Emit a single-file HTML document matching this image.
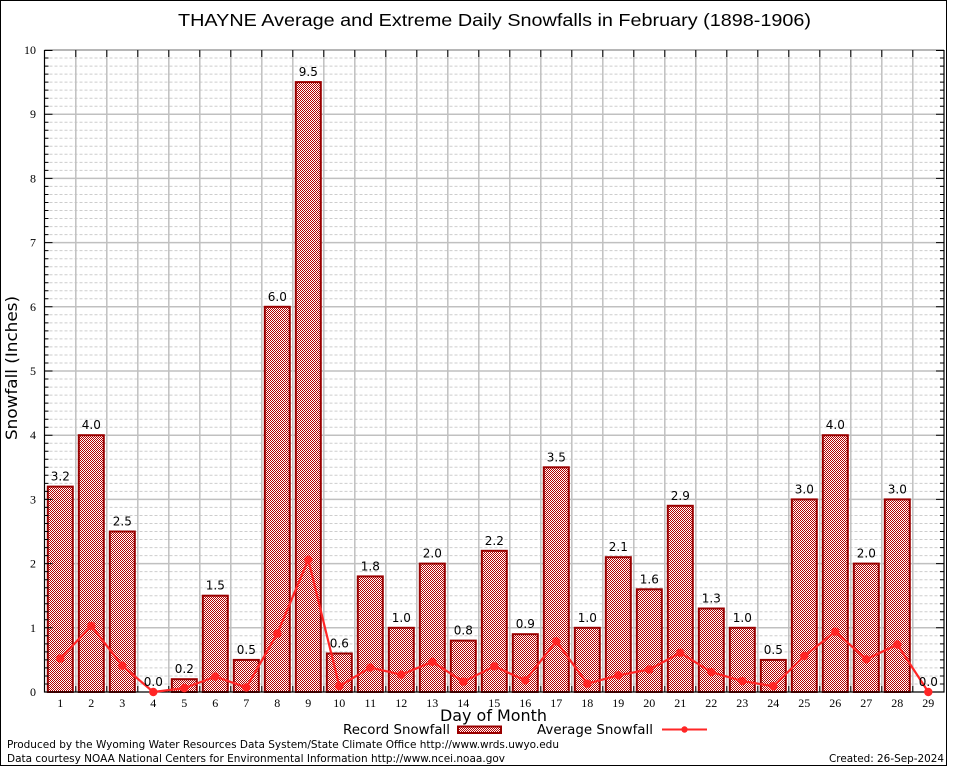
<!DOCTYPE html>
<html>
<head>
<meta charset="utf-8">
<style>
html,body{margin:0;padding:0;background:#fff;}
svg{display:block;}
.tk{font-family:"Liberation Serif",serif;font-size:12px;fill:#000;}
.vl{font-family:"DejaVu Sans","Liberation Sans",sans-serif;font-size:12px;fill:#000;text-anchor:middle;}
.sans{font-family:"DejaVu Sans","Liberation Sans",sans-serif;fill:#000;}
</style>
</head>
<body>
<svg width="954" height="768" viewBox="0 0 954 768" xmlns="http://www.w3.org/2000/svg">
<defs>
<pattern id="chk" width="2" height="2" patternUnits="userSpaceOnUse">
<rect width="2" height="2" fill="#fff"/>
<rect x="0" y="0" width="1" height="1" fill="#b40000"/>
<rect x="1" y="1" width="1" height="1" fill="#b40000"/>
</pattern>
</defs>
<rect x="0" y="0" width="954" height="768" fill="#fff"/>
<rect x="0.5" y="0.5" width="946" height="765" fill="none" stroke="#000" stroke-width="1"/>

<!-- minor dashed grid -->
<path fill="none" stroke="#cdcdcd" stroke-width="1" stroke-dasharray="3,2" d="
M44.5 684H944M44.5 676H944M44.5 667.9H944M44.5 659.9H944M44.5 651.9H944M44.5 643.9H944M44.5 635.8H944
M44.5 619.8H944M44.5 611.8H944M44.5 603.7H944M44.5 595.7H944M44.5 587.7H944M44.5 579.7H944M44.5 571.6H944
M44.5 555.6H944M44.5 547.6H944M44.5 539.5H944M44.5 531.5H944M44.5 523.5H944M44.5 515.5H944M44.5 507.4H944
M44.5 491.4H944M44.5 483.4H944M44.5 475.3H944M44.5 467.3H944M44.5 459.3H944M44.5 451.3H944M44.5 443.2H944
M44.5 427.2H944M44.5 419.2H944M44.5 411.1H944M44.5 403.1H944M44.5 395.1H944M44.5 387.1H944M44.5 379H944
M44.5 363H944M44.5 355H944M44.5 346.9H944M44.5 338.9H944M44.5 330.9H944M44.5 322.9H944M44.5 314.8H944
M44.5 298.8H944M44.5 290.8H944M44.5 282.7H944M44.5 274.7H944M44.5 266.7H944M44.5 258.7H944M44.5 250.6H944
M44.5 234.6H944M44.5 226.6H944M44.5 218.5H944M44.5 210.5H944M44.5 202.5H944M44.5 194.5H944M44.5 186.4H944
M44.5 170.4H944M44.5 162.4H944M44.5 154.3H944M44.5 146.3H944M44.5 138.3H944M44.5 130.3H944M44.5 122.2H944
M44.5 106.2H944M44.5 98.2H944M44.5 90.1H944M44.5 82.1H944M44.5 74.1H944M44.5 66.1H944M44.5 58H944"/>

<!-- major grid -->
<path fill="none" stroke="#c0c0c0" stroke-width="1.5" d="
M44.5 627.8H944M44.5 563.6H944M44.5 499.4H944M44.5 435.2H944M44.5 371H944M44.5 306.8H944M44.5 242.6H944M44.5 178.4H944M44.5 114.2H944M44.5 50H944
M75.8 50V692M106.8 50V692M137.8 50V692M168.8 50V692M199.8 50V692M230.8 50V692M261.8 50V692M292.8 50V692M323.8 50V692M354.8 50V692
M385.8 50V692M416.8 50V692M447.8 50V692M478.8 50V692M509.8 50V692M540.8 50V692M571.8 50V692M602.8 50V692M633.8 50V692M664.8 50V692
M695.8 50V692M726.8 50V692M757.8 50V692M788.8 50V692M819.8 50V692M850.8 50V692M881.8 50V692M912.8 50V692"/>

<!-- bars -->
<g fill="url(#chk)" stroke="#990000" stroke-width="2">
<rect x="47.8" y="486.6" width="25" height="205.4"/>
<rect x="78.8" y="435.2" width="25" height="256.8"/>
<rect x="109.8" y="531.5" width="25" height="160.5"/>
<rect x="171.8" y="679.2" width="25" height="12.8"/>
<rect x="202.8" y="595.7" width="25" height="96.3"/>
<rect x="233.8" y="659.9" width="25" height="32.1"/>
<rect x="264.8" y="306.8" width="25" height="385.2"/>
<rect x="295.8" y="82.1" width="25" height="609.9"/>
<rect x="326.8" y="653.5" width="25" height="38.5"/>
<rect x="357.8" y="576.4" width="25" height="115.6"/>
<rect x="388.8" y="627.8" width="25" height="64.2"/>
<rect x="419.8" y="563.6" width="25" height="128.4"/>
<rect x="450.8" y="640.6" width="25" height="51.4"/>
<rect x="481.8" y="550.8" width="25" height="141.2"/>
<rect x="512.8" y="634.2" width="25" height="57.8"/>
<rect x="543.8" y="467.3" width="25" height="224.7"/>
<rect x="574.8" y="627.8" width="25" height="64.2"/>
<rect x="605.8" y="557.2" width="25" height="134.8"/>
<rect x="636.8" y="589.3" width="25" height="102.7"/>
<rect x="667.8" y="505.8" width="25" height="186.2"/>
<rect x="698.8" y="608.5" width="25" height="83.5"/>
<rect x="729.8" y="627.8" width="25" height="64.2"/>
<rect x="760.8" y="659.9" width="25" height="32.1"/>
<rect x="791.8" y="499.4" width="25" height="192.6"/>
<rect x="822.8" y="435.2" width="25" height="256.8"/>
<rect x="853.8" y="563.6" width="25" height="128.4"/>
<rect x="884.8" y="499.4" width="25" height="192.6"/>
</g>

<!-- axes border -->
<path fill="none" stroke="#a8a8a8" stroke-width="1.5" d="M44.5 50H944"/>
<path fill="none" stroke="#000" stroke-width="1.2" d="M44.5 50V692H944V50"/>

<!-- ticks -->
<path fill="none" stroke="#000" stroke-width="1" d="
M44.5 627.8h8M44.5 563.6h8M44.5 499.4h8M44.5 435.2h8M44.5 371h8M44.5 306.8h8M44.5 242.6h8M44.5 178.4h8M44.5 114.2h8M44.5 50.5h8
M944 627.8h-8M944 563.6h-8M944 499.4h-8M944 435.2h-8M944 371h-8M944 306.8h-8M944 242.6h-8M944 178.4h-8M944 114.2h-8M944 50.5h-8
M44.5 684h4M44.5 676h4M44.5 667.9h4M44.5 659.9h4M44.5 651.9h4M44.5 643.9h4M44.5 635.8h4
M44.5 619.8h4M44.5 611.8h4M44.5 603.7h4M44.5 595.7h4M44.5 587.7h4M44.5 579.7h4M44.5 571.6h4
M44.5 555.6h4M44.5 547.6h4M44.5 539.5h4M44.5 531.5h4M44.5 523.5h4M44.5 515.5h4M44.5 507.4h4
M44.5 491.4h4M44.5 483.4h4M44.5 475.3h4M44.5 467.3h4M44.5 459.3h4M44.5 451.3h4M44.5 443.2h4
M44.5 427.2h4M44.5 419.2h4M44.5 411.1h4M44.5 403.1h4M44.5 395.1h4M44.5 387.1h4M44.5 379h4
M44.5 363h4M44.5 355h4M44.5 346.9h4M44.5 338.9h4M44.5 330.9h4M44.5 322.9h4M44.5 314.8h4
M44.5 298.8h4M44.5 290.8h4M44.5 282.7h4M44.5 274.7h4M44.5 266.7h4M44.5 258.7h4M44.5 250.6h4
M44.5 234.6h4M44.5 226.6h4M44.5 218.5h4M44.5 210.5h4M44.5 202.5h4M44.5 194.5h4M44.5 186.4h4
M44.5 170.4h4M44.5 162.4h4M44.5 154.3h4M44.5 146.3h4M44.5 138.3h4M44.5 130.3h4M44.5 122.2h4
M44.5 106.2h4M44.5 98.2h4M44.5 90.1h4M44.5 82.1h4M44.5 74.1h4M44.5 66.1h4M44.5 58h4
M944 684h-4M944 676h-4M944 667.9h-4M944 659.9h-4M944 651.9h-4M944 643.9h-4M944 635.8h-4
M944 619.8h-4M944 611.8h-4M944 603.7h-4M944 595.7h-4M944 587.7h-4M944 579.7h-4M944 571.6h-4
M944 555.6h-4M944 547.6h-4M944 539.5h-4M944 531.5h-4M944 523.5h-4M944 515.5h-4M944 507.4h-4
M944 491.4h-4M944 483.4h-4M944 475.3h-4M944 467.3h-4M944 459.3h-4M944 451.3h-4M944 443.2h-4
M944 427.2h-4M944 419.2h-4M944 411.1h-4M944 403.1h-4M944 395.1h-4M944 387.1h-4M944 379h-4
M944 363h-4M944 355h-4M944 346.9h-4M944 338.9h-4M944 330.9h-4M944 322.9h-4M944 314.8h-4
M944 298.8h-4M944 290.8h-4M944 282.7h-4M944 274.7h-4M944 266.7h-4M944 258.7h-4M944 250.6h-4
M944 234.6h-4M944 226.6h-4M944 218.5h-4M944 210.5h-4M944 202.5h-4M944 194.5h-4M944 186.4h-4
M944 170.4h-4M944 162.4h-4M944 154.3h-4M944 146.3h-4M944 138.3h-4M944 130.3h-4M944 122.2h-4
M944 106.2h-4M944 98.2h-4M944 90.1h-4M944 82.1h-4M944 74.1h-4M944 66.1h-4M944 58h-4
M75.8 692v-6M106.8 692v-6M137.8 692v-6M168.8 692v-6M199.8 692v-6M230.8 692v-6M261.8 692v-6M292.8 692v-6M323.8 692v-6M354.8 692v-6
M385.8 692v-6M416.8 692v-6M447.8 692v-6M478.8 692v-6M509.8 692v-6M540.8 692v-6M571.8 692v-6M602.8 692v-6M633.8 692v-6M664.8 692v-6
M695.8 692v-6M726.8 692v-6M757.8 692v-6M788.8 692v-6M819.8 692v-6M850.8 692v-6M881.8 692v-6M912.8 692v-6
M75.8 50v7M106.8 50v7M137.8 50v7M168.8 50v7M199.8 50v7M230.8 50v7M261.8 50v7M292.8 50v7M323.8 50v7M354.8 50v7
M385.8 50v7M416.8 50v7M447.8 50v7M478.8 50v7M509.8 50v7M540.8 50v7M571.8 50v7M602.8 50v7M633.8 50v7M664.8 50v7
M695.8 50v7M726.8 50v7M757.8 50v7M788.8 50v7M819.8 50v7M850.8 50v7M881.8 50v7M912.8 50v7"/>

<!-- average line -->
<polyline fill="none" stroke="#ff2626" stroke-width="2.2" stroke-linejoin="round" points="60.3,658.6 91.3,625.9 122.3,665.7 153.3,692 184.3,688.1 215.3,676.6 246.3,687.5 277.3,633.6 308.3,559.7 339.3,686.2 370.3,667.6 401.3,674.7 432.3,661.8 463.3,681.7 494.3,666.3 525.3,680.4 556.3,641.3 587.3,683.7 618.3,675.3 649.3,669.5 680.3,652.8 711.3,672.1 742.3,681.1 773.3,686.2 804.3,656 835.3,631.7 866.3,659.3 897.3,644.5 928.3,692"/>
<g fill="#ff2626">
<circle cx="60.3" cy="658.6" r="4.2"/><circle cx="91.3" cy="625.9" r="4.2"/><circle cx="122.3" cy="665.7" r="4.2"/><circle cx="153.3" cy="692" r="4.2"/>
<circle cx="184.3" cy="688.1" r="4.2"/><circle cx="215.3" cy="676.6" r="4.2"/><circle cx="246.3" cy="687.5" r="4.2"/><circle cx="277.3" cy="633.6" r="4.2"/>
<circle cx="308.3" cy="559.7" r="4.2"/><circle cx="339.3" cy="686.2" r="4.2"/><circle cx="370.3" cy="667.6" r="4.2"/><circle cx="401.3" cy="674.7" r="4.2"/>
<circle cx="432.3" cy="661.8" r="4.2"/><circle cx="463.3" cy="681.7" r="4.2"/><circle cx="494.3" cy="666.3" r="4.2"/><circle cx="525.3" cy="680.4" r="4.2"/>
<circle cx="556.3" cy="641.3" r="4.2"/><circle cx="587.3" cy="683.7" r="4.2"/><circle cx="618.3" cy="675.3" r="4.2"/><circle cx="649.3" cy="669.5" r="4.2"/>
<circle cx="680.3" cy="652.8" r="4.2"/><circle cx="711.3" cy="672.1" r="4.2"/><circle cx="742.3" cy="681.1" r="4.2"/><circle cx="773.3" cy="686.2" r="4.2"/>
<circle cx="804.3" cy="656" r="4.2"/><circle cx="835.3" cy="631.7" r="4.2"/><circle cx="866.3" cy="659.3" r="4.2"/><circle cx="897.3" cy="644.5" r="4.2"/>
<circle cx="928.3" cy="692" r="4.2"/>
</g>

<!-- value labels -->
<g class="vl">
<text x="60.3" y="480.6">3.2</text>
<text x="91.3" y="429.2">4.0</text>
<text x="122.3" y="525.5">2.5</text>
<text x="153.3" y="686">0.0</text>
<text x="184.3" y="673.2">0.2</text>
<text x="215.3" y="589.7">1.5</text>
<text x="246.3" y="653.9">0.5</text>
<text x="277.3" y="300.8">6.0</text>
<text x="308.3" y="76.1">9.5</text>
<text x="339.3" y="647.5">0.6</text>
<text x="370.3" y="570.4">1.8</text>
<text x="401.3" y="621.8">1.0</text>
<text x="432.3" y="557.6">2.0</text>
<text x="463.3" y="634.6">0.8</text>
<text x="494.3" y="544.8">2.2</text>
<text x="525.3" y="628.2">0.9</text>
<text x="556.3" y="461.3">3.5</text>
<text x="587.3" y="621.8">1.0</text>
<text x="618.3" y="551.2">2.1</text>
<text x="649.3" y="583.3">1.6</text>
<text x="680.3" y="499.8">2.9</text>
<text x="711.3" y="602.5">1.3</text>
<text x="742.3" y="621.8">1.0</text>
<text x="773.3" y="653.9">0.5</text>
<text x="804.3" y="493.4">3.0</text>
<text x="835.3" y="429.2">4.0</text>
<text x="866.3" y="557.6">2.0</text>
<text x="897.3" y="493.4">3.0</text>
<text x="928.3" y="686">0.0</text>
</g>

<!-- y tick labels -->
<g class="tk" text-anchor="end">
<text x="36" y="696">0</text>
<text x="36" y="631.8">1</text>
<text x="36" y="567.6">2</text>
<text x="36" y="503.4">3</text>
<text x="36" y="439.2">4</text>
<text x="36" y="375">5</text>
<text x="36" y="310.8">6</text>
<text x="36" y="246.6">7</text>
<text x="36" y="182.4">8</text>
<text x="36" y="118.2">9</text>
<text x="36" y="54">10</text>
</g>
<!-- x tick labels -->
<g class="tk" text-anchor="middle">
<text x="60.3" y="707">1</text><text x="91.3" y="707">2</text><text x="122.3" y="707">3</text><text x="153.3" y="707">4</text>
<text x="184.3" y="707">5</text><text x="215.3" y="707">6</text><text x="246.3" y="707">7</text><text x="277.3" y="707">8</text>
<text x="308.3" y="707">9</text><text x="339.3" y="707">10</text><text x="370.3" y="707">11</text><text x="401.3" y="707">12</text>
<text x="432.3" y="707">13</text><text x="463.3" y="707">14</text><text x="494.3" y="707">15</text><text x="525.3" y="707">16</text>
<text x="556.3" y="707">17</text><text x="587.3" y="707">18</text><text x="618.3" y="707">19</text><text x="649.3" y="707">20</text>
<text x="680.3" y="707">21</text><text x="711.3" y="707">22</text><text x="742.3" y="707">23</text><text x="773.3" y="707">24</text>
<text x="804.3" y="707">25</text><text x="835.3" y="707">26</text><text x="866.3" y="707">27</text><text x="897.3" y="707">28</text>
<text x="928.3" y="707">29</text>
</g>

<!-- title -->
<text x="178" y="26" font-family="'Liberation Sans',Arial,sans-serif" font-size="17.5" textLength="633" lengthAdjust="spacingAndGlyphs" fill="#000">THAYNE Average and Extreme Daily Snowfalls in February (1898-1906)</text>

<!-- axis titles -->
<text class="sans" x="440" y="721" font-size="16" textLength="107" lengthAdjust="spacingAndGlyphs">Day of Month</text>
<text class="sans" transform="translate(17,440) rotate(-90)" x="0" y="0" font-size="16" textLength="144" lengthAdjust="spacingAndGlyphs">Snowfall (Inches)</text>

<!-- legend -->
<text class="sans" x="343" y="734" font-size="13" textLength="107" lengthAdjust="spacingAndGlyphs">Record Snowfall</text>
<rect x="458" y="726.5" width="43" height="6.5" fill="url(#chk)" stroke="#990000" stroke-width="2"/>
<text class="sans" x="537" y="734" font-size="13" textLength="116" lengthAdjust="spacingAndGlyphs">Average Snowfall</text>
<path d="M662 729.5H707" stroke="#ff2626" stroke-width="2"/>
<circle cx="684.5" cy="729.5" r="3.2" fill="#ff2626"/>

<!-- footer -->
<text class="sans" x="7" y="748" font-size="10.5" textLength="552" lengthAdjust="spacingAndGlyphs">Produced by the Wyoming Water Resources Data System/State Climate Office http://www.wrds.uwyo.edu</text>
<text class="sans" x="7" y="762" font-size="10.5" textLength="498" lengthAdjust="spacingAndGlyphs">Data courtesy NOAA National Centers for Environmental Information http://www.ncei.noaa.gov</text>
<text class="sans" x="829" y="762" font-size="10.5" textLength="115" lengthAdjust="spacingAndGlyphs">Created: 26-Sep-2024</text>
</svg>
</body>
</html>
